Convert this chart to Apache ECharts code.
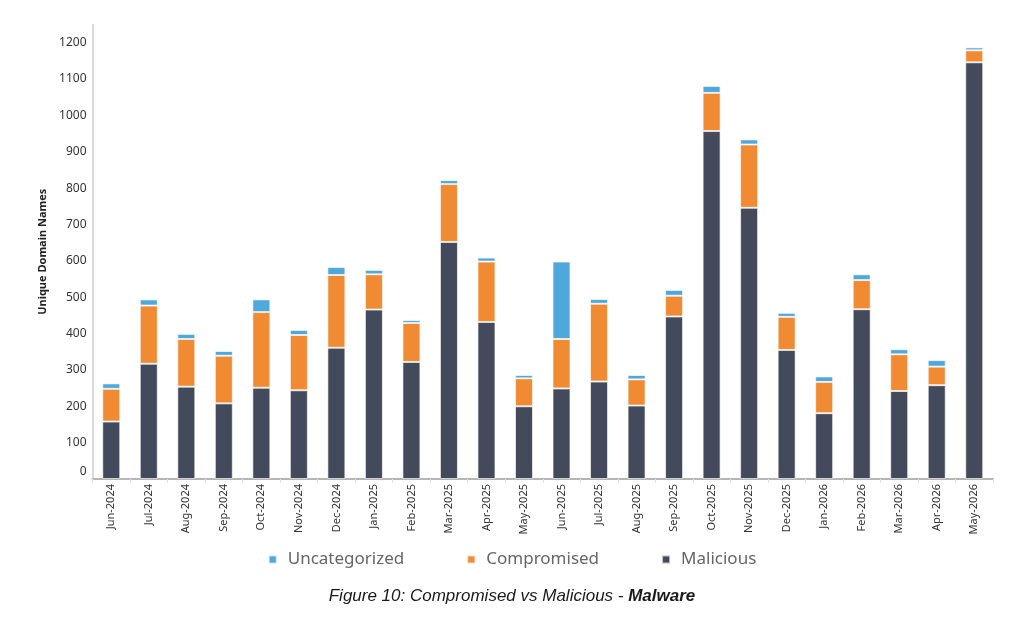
<!DOCTYPE html>
<html>
<head>
  <meta charset="utf-8">
  <title>Compromised vs Malicious - Malware</title>
  <script src="https://cdn.jsdelivr.net/npm/echarts@6/dist/echarts.min.js"></script>
  <style>
    html, body { margin: 0; padding: 0; background: #fff; }
  </style>
</head>
<body>
<div id="main" style="width: 1024px;height:641px;"></div>
<script type="text/javascript">
  // month categories
  var months = ['Jun-2024', 'Jul-2024', 'Aug-2024', 'Sep-2024', 'Oct-2024', 'Nov-2024',
    'Dec-2024', 'Jan-2025', 'Feb-2025', 'Mar-2025', 'Apr-2025', 'May-2025',
    'Jun-2025', 'Jul-2025', 'Aug-2025', 'Sep-2025', 'Oct-2025', 'Nov-2025',
    'Dec-2025', 'Jan-2026', 'Feb-2026', 'Mar-2026', 'Apr-2026', 'May-2026'];

  // values (stacked: malicious at the bottom)
  var malicious = [158, 317, 254, 208, 251, 244, 361, 466, 322, 652, 432, 200,
    249, 268, 202, 447, 957, 746, 355, 181, 467, 242, 258, 1146];
  var compromised = [90, 160, 131, 131, 208, 152, 200, 97, 107, 159, 166, 77,
    136, 214, 72, 57, 105, 174, 91, 86, 80, 101, 51, 33];
  var uncategorized = [15, 17, 14, 13, 35, 14, 22, 12, 8, 11, 11, 9,
    213, 13, 12, 16, 19, 14, 11, 15, 16, 14, 18, 8];

  var chartDom = document.getElementById('main');
  var myChart = echarts.init(chartDom);
  var option;

  var barBorder = {borderColor: 'rgba(255,255,255,0.65)', borderWidth: 1};

  option = {
    animation: false,
    textStyle: {fontFamily: 'Noto Sans'},
    title: {
      text: '{a|Figure 10: Compromised vs Malicious - }{b|Malware}',
      left: 'center',
      top: 583,
      textStyle: {
        fontWeight: 'normal',
        rich: {
          a: {fontFamily: 'Liberation Sans', fontStyle: 'italic', fontWeight: 'normal', fontSize: 17, color: '#1a1a1a'},
          b: {fontFamily: 'Liberation Sans', fontStyle: 'italic', fontWeight: 'bold', fontSize: 17, color: '#1a1a1a'}
        }
      }
    },
    legend: {
      data: ['Uncategorized', 'Compromised', 'Malicious'],
      left: 'center',
      top: 546,
      icon: 'rect',
      itemWidth: 8,
      itemHeight: 8,
      itemGap: 62,
      textStyle: {fontFamily: 'Noto Sans', fontSize: 17, color: '#666', padding: [0, 0, 0, 6]}
    },
    grid: {left: 92.5, right: 31, top: 24.5, bottom: 162},
    xAxis: {
      type: 'category',
      data: months,
      axisLine: {lineStyle: {color: '#b5b5b5', width: 2}},
      axisTick: {show: true, length: 4, lineStyle: {color: '#e2e2e2'}},
      axisLabel: {rotate: 90, margin: 5, fontSize: 11, color: '#333', interval: 0}
    },
    yAxis: {
      type: 'value',
      min: 0,
      max: 1250,
      interval: 100,
      name: 'Unique Domain Names',
      nameLocation: 'middle',
      nameGap: 44,
      nameTextStyle: {fontSize: 11, fontWeight: 'bold', color: '#222'},
      splitLine: {show: false},
      axisTick: {show: false},
      axisLine: {show: true, lineStyle: {color: '#cfcfcf', width: 1.5}},
      axisLabel: {
        showMaxLabel: false,
        margin: 6,
        fontSize: 12,
        color: '#333',
        formatter: function (v) { return v === 0 ? '{z|0}' : String(v); },
        rich: {z: {fontSize: 12, color: '#333', padding: [0, 0, 15, 0]}}
      }
    },
    series: [
      {
        name: 'Malicious',
        type: 'bar',
        stack: 'total',
        barWidth: 18,
        data: malicious,
        itemStyle: Object.assign({color: '#424a5b'}, barBorder)
      },
      {
        name: 'Compromised',
        type: 'bar',
        stack: 'total',
        barWidth: 18,
        data: compromised,
        itemStyle: Object.assign({color: '#f08a33'}, barBorder)
      },
      {
        name: 'Uncategorized',
        type: 'bar',
        stack: 'total',
        barWidth: 18,
        data: uncategorized,
        itemStyle: Object.assign({color: '#4fa8dc'}, barBorder)
      }
    ]
  };

  option && myChart.setOption(option);
</script>
</body>
</html>
